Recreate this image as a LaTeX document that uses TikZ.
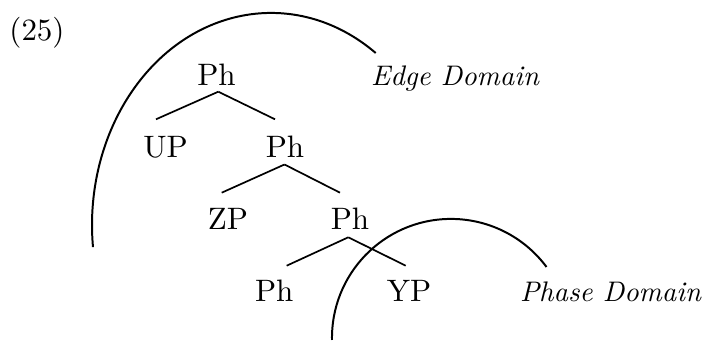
\documentclass[tikz,border=0pt]{standalone}
\usepackage{tikz}
\usetikzlibrary{positioning}

\begin{document}
\begin{tikzpicture}[x=0.3533pt,y=0.3533pt,
  cat/.style={inner sep=0pt,anchor=base,font=\fontsize{10.95}{13.6}\selectfont},
  dom/.style={inner sep=0pt,anchor=base,font=\itshape},
  br/.style={line width=0.6pt},
  domarc/.style={line width=0.7pt}]
\useasboundingbox (0,0) rectangle (705,343);
\node[cat] (ex) at (37,302) {(25)};
% tree
\node[cat] (ph1) at (216.5,257) {Ph};
\node[cat] (up) at (165.5,185.5) {UP};
\node[cat] (ph2) at (285,185.5) {Ph};
\node[cat] (zp) at (228,113) {ZP};
\node[cat] (ph3) at (350,113) {Ph};
\node[cat] (ph4) at (274.3,41.3) {Ph};
\node[cat] (yp) at (409,41.3) {YP};
\draw[br] ([shift={(1.8,-5.7)}]ph1.base) -- ([shift={(-9.5,38.2)}]up.base);
\draw[br] ([shift={(1.8,-5.7)}]ph1.base) -- ([shift={(-10,38.2)}]ph2.base);
\draw[br] ([shift={(-0.5,-7)}]ph2.base) -- ([shift={(-6.3,37.3)}]zp.base);
\draw[br] ([shift={(-0.5,-7)}]ph2.base) -- ([shift={(-10,37.3)}]ph3.base);
\draw[br] ([shift={(-1.7,-7.3)}]ph3.base) -- ([shift={(12.4,36)}]ph4.base);
\draw[br] ([shift={(-1.7,-7.3)}]ph3.base) -- ([shift={(-3.3,36)}]yp.base);
% domains
\node[dom] (edge) at (455,257) {Edge Domain};
\node[dom] (phase) at (610.5,41) {Phase Domain};
\draw[domarc] (375.7,290) arc[start angle=54.2,end angle=186,x radius=179,y radius=212];
\draw[domarc] (332,3) arc[start angle=181,end angle=36.6,radius=119];
\end{tikzpicture}
\end{document}
